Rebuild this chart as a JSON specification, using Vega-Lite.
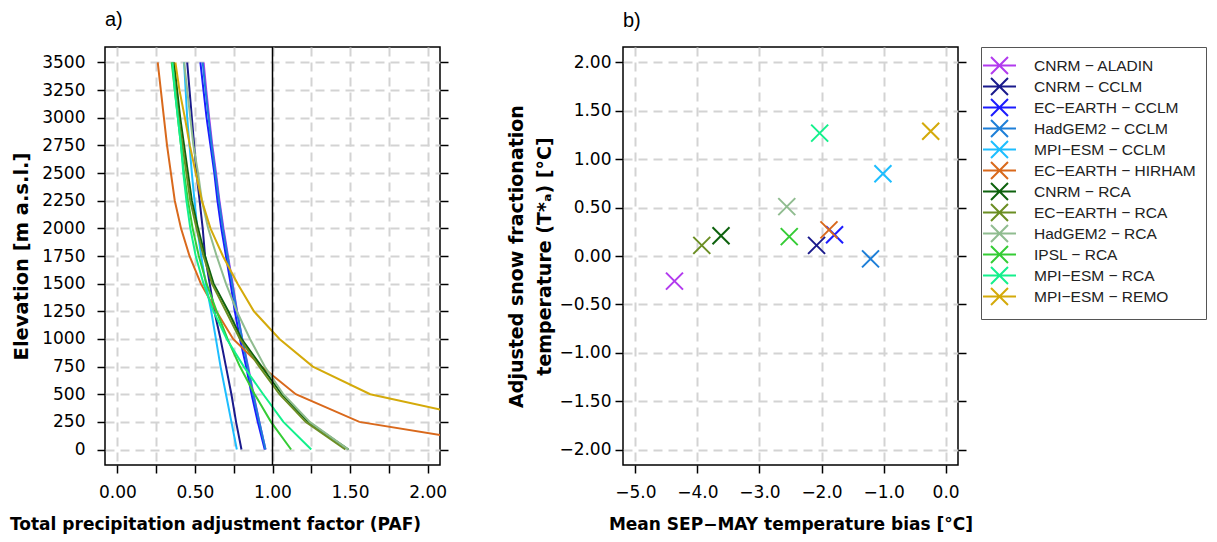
{
  "$schema": "https://vega.github.io/schema/vega-lite/v6.json",
  "background": "white",
  "padding": {"left": 8, "top": 9, "right": 5, "bottom": 5},
  "config": {
    "font": "DejaVu Sans",
    "view": {"stroke": "#000", "strokeWidth": 1.5},
    "axis": {
      "labelFont": "DejaVu Sans", "labelFontSize": 17, "labelColor": "#000",
      "titleFont": "DejaVu Sans", "titleFontSize": 17, "titleFontWeight": "bold", "titleColor": "#000",
      "tickColor": "#000", "tickWidth": 1.5, "tickSize": 8, "domain": false,
      "gridColor": "#D3D3D3", "gridWidth": 2, "gridDash": [9, 6]
    },
    "title": {"font": "Liberation Sans", "fontSize": 20, "fontWeight": "normal", "color": "#000", "anchor": "start", "frame": "group", "offset": 16}
  },
  "datasets": {
    "ref": [{"paf": 1}],
    "points": [
      {"model": "CNRM − ALADIN", "bias": -4.37, "tstar": -0.26},
      {"model": "CNRM − CCLM", "bias": -2.08, "tstar": 0.11},
      {"model": "EC−EARTH − CCLM", "bias": -1.79, "tstar": 0.22},
      {"model": "HadGEM2 − CCLM", "bias": -1.21, "tstar": -0.03},
      {"model": "MPI−ESM − CCLM", "bias": -1.01, "tstar": 0.85},
      {"model": "EC−EARTH − HIRHAM", "bias": -1.88, "tstar": 0.27},
      {"model": "CNRM − RCA", "bias": -3.62, "tstar": 0.21},
      {"model": "EC−EARTH − RCA", "bias": -3.93, "tstar": 0.11},
      {"model": "HadGEM2 − RCA", "bias": -2.56, "tstar": 0.51},
      {"model": "IPSL − RCA", "bias": -2.52, "tstar": 0.20},
      {"model": "MPI−ESM − RCA", "bias": -2.03, "tstar": 1.27},
      {"model": "MPI−ESM − REMO", "bias": -0.24, "tstar": 1.29}
    ],
    "curves": [
      {"model": "CNRM − ALADIN", "elev": 0, "paf": 0.955}, {"model": "CNRM − ALADIN", "elev": 250, "paf": 0.915}, {"model": "CNRM − ALADIN", "elev": 500, "paf": 0.878}, {"model": "CNRM − ALADIN", "elev": 750, "paf": 0.843}, {"model": "CNRM − ALADIN", "elev": 1000, "paf": 0.805}, {"model": "CNRM − ALADIN", "elev": 1250, "paf": 0.772}, {"model": "CNRM − ALADIN", "elev": 1500, "paf": 0.743}, {"model": "CNRM − ALADIN", "elev": 1750, "paf": 0.713}, {"model": "CNRM − ALADIN", "elev": 2000, "paf": 0.684}, {"model": "CNRM − ALADIN", "elev": 2250, "paf": 0.658}, {"model": "CNRM − ALADIN", "elev": 2500, "paf": 0.636}, {"model": "CNRM − ALADIN", "elev": 2750, "paf": 0.612}, {"model": "CNRM − ALADIN", "elev": 3000, "paf": 0.592}, {"model": "CNRM − ALADIN", "elev": 3250, "paf": 0.573}, {"model": "CNRM − ALADIN", "elev": 3500, "paf": 0.556},
      {"model": "CNRM − CCLM", "elev": 0, "paf": 0.80}, {"model": "CNRM − CCLM", "elev": 250, "paf": 0.765}, {"model": "CNRM − CCLM", "elev": 500, "paf": 0.735}, {"model": "CNRM − CCLM", "elev": 750, "paf": 0.70}, {"model": "CNRM − CCLM", "elev": 1000, "paf": 0.665}, {"model": "CNRM − CCLM", "elev": 1250, "paf": 0.625}, {"model": "CNRM − CCLM", "elev": 1500, "paf": 0.595}, {"model": "CNRM − CCLM", "elev": 1750, "paf": 0.565}, {"model": "CNRM − CCLM", "elev": 2000, "paf": 0.55}, {"model": "CNRM − CCLM", "elev": 2250, "paf": 0.53}, {"model": "CNRM − CCLM", "elev": 2500, "paf": 0.51}, {"model": "CNRM − CCLM", "elev": 2750, "paf": 0.495}, {"model": "CNRM − CCLM", "elev": 3000, "paf": 0.48}, {"model": "CNRM − CCLM", "elev": 3250, "paf": 0.465}, {"model": "CNRM − CCLM", "elev": 3500, "paf": 0.45},
      {"model": "EC−EARTH − CCLM", "elev": 0, "paf": 0.95}, {"model": "EC−EARTH − CCLM", "elev": 250, "paf": 0.905}, {"model": "EC−EARTH − CCLM", "elev": 500, "paf": 0.865}, {"model": "EC−EARTH − CCLM", "elev": 750, "paf": 0.83}, {"model": "EC−EARTH − CCLM", "elev": 1000, "paf": 0.79}, {"model": "EC−EARTH − CCLM", "elev": 1250, "paf": 0.757}, {"model": "EC−EARTH − CCLM", "elev": 1500, "paf": 0.73}, {"model": "EC−EARTH − CCLM", "elev": 1750, "paf": 0.70}, {"model": "EC−EARTH − CCLM", "elev": 2000, "paf": 0.67}, {"model": "EC−EARTH − CCLM", "elev": 2250, "paf": 0.645}, {"model": "EC−EARTH − CCLM", "elev": 2500, "paf": 0.625}, {"model": "EC−EARTH − CCLM", "elev": 2750, "paf": 0.60}, {"model": "EC−EARTH − CCLM", "elev": 3000, "paf": 0.575}, {"model": "EC−EARTH − CCLM", "elev": 3250, "paf": 0.555}, {"model": "EC−EARTH − CCLM", "elev": 3500, "paf": 0.535},
      {"model": "HadGEM2 − CCLM", "elev": 0, "paf": 0.955}, {"model": "HadGEM2 − CCLM", "elev": 250, "paf": 0.915}, {"model": "HadGEM2 − CCLM", "elev": 500, "paf": 0.875}, {"model": "HadGEM2 − CCLM", "elev": 750, "paf": 0.84}, {"model": "HadGEM2 − CCLM", "elev": 1000, "paf": 0.805}, {"model": "HadGEM2 − CCLM", "elev": 1250, "paf": 0.77}, {"model": "HadGEM2 − CCLM", "elev": 1500, "paf": 0.74}, {"model": "HadGEM2 − CCLM", "elev": 1750, "paf": 0.71}, {"model": "HadGEM2 − CCLM", "elev": 2000, "paf": 0.68}, {"model": "HadGEM2 − CCLM", "elev": 2250, "paf": 0.655}, {"model": "HadGEM2 − CCLM", "elev": 2500, "paf": 0.632}, {"model": "HadGEM2 − CCLM", "elev": 2750, "paf": 0.608}, {"model": "HadGEM2 − CCLM", "elev": 3000, "paf": 0.588}, {"model": "HadGEM2 − CCLM", "elev": 3250, "paf": 0.568}, {"model": "HadGEM2 − CCLM", "elev": 3500, "paf": 0.55},
      {"model": "MPI−ESM − CCLM", "elev": 0, "paf": 0.77}, {"model": "MPI−ESM − CCLM", "elev": 250, "paf": 0.735}, {"model": "MPI−ESM − CCLM", "elev": 500, "paf": 0.70}, {"model": "MPI−ESM − CCLM", "elev": 750, "paf": 0.665}, {"model": "MPI−ESM − CCLM", "elev": 1000, "paf": 0.635}, {"model": "MPI−ESM − CCLM", "elev": 1250, "paf": 0.605}, {"model": "MPI−ESM − CCLM", "elev": 1500, "paf": 0.57}, {"model": "MPI−ESM − CCLM", "elev": 1750, "paf": 0.54}, {"model": "MPI−ESM − CCLM", "elev": 2000, "paf": 0.515}, {"model": "MPI−ESM − CCLM", "elev": 2250, "paf": 0.497}, {"model": "MPI−ESM − CCLM", "elev": 2500, "paf": 0.48}, {"model": "MPI−ESM − CCLM", "elev": 2750, "paf": 0.465}, {"model": "MPI−ESM − CCLM", "elev": 3000, "paf": 0.45}, {"model": "MPI−ESM − CCLM", "elev": 3250, "paf": 0.44}, {"model": "MPI−ESM − CCLM", "elev": 3500, "paf": 0.43},
      {"model": "EC−EARTH − HIRHAM", "elev": 0, "paf": 2.65}, {"model": "EC−EARTH − HIRHAM", "elev": 250, "paf": 1.56}, {"model": "EC−EARTH − HIRHAM", "elev": 500, "paf": 1.15}, {"model": "EC−EARTH − HIRHAM", "elev": 750, "paf": 0.93}, {"model": "EC−EARTH − HIRHAM", "elev": 1000, "paf": 0.746}, {"model": "EC−EARTH − HIRHAM", "elev": 1250, "paf": 0.638}, {"model": "EC−EARTH − HIRHAM", "elev": 1500, "paf": 0.538}, {"model": "EC−EARTH − HIRHAM", "elev": 1750, "paf": 0.465}, {"model": "EC−EARTH − HIRHAM", "elev": 2000, "paf": 0.41}, {"model": "EC−EARTH − HIRHAM", "elev": 2250, "paf": 0.37}, {"model": "EC−EARTH − HIRHAM", "elev": 2500, "paf": 0.345}, {"model": "EC−EARTH − HIRHAM", "elev": 2750, "paf": 0.32}, {"model": "EC−EARTH − HIRHAM", "elev": 3000, "paf": 0.30}, {"model": "EC−EARTH − HIRHAM", "elev": 3250, "paf": 0.28}, {"model": "EC−EARTH − HIRHAM", "elev": 3500, "paf": 0.26},
      {"model": "CNRM − RCA", "elev": 0, "paf": 1.49}, {"model": "CNRM − RCA", "elev": 250, "paf": 1.23}, {"model": "CNRM − RCA", "elev": 500, "paf": 1.06}, {"model": "CNRM − RCA", "elev": 750, "paf": 0.93}, {"model": "CNRM − RCA", "elev": 1000, "paf": 0.80}, {"model": "CNRM − RCA", "elev": 1250, "paf": 0.715}, {"model": "CNRM − RCA", "elev": 1500, "paf": 0.62}, {"model": "CNRM − RCA", "elev": 1750, "paf": 0.565}, {"model": "CNRM − RCA", "elev": 2000, "paf": 0.52}, {"model": "CNRM − RCA", "elev": 2250, "paf": 0.48}, {"model": "CNRM − RCA", "elev": 2500, "paf": 0.455}, {"model": "CNRM − RCA", "elev": 2750, "paf": 0.43}, {"model": "CNRM − RCA", "elev": 3000, "paf": 0.405}, {"model": "CNRM − RCA", "elev": 3250, "paf": 0.385}, {"model": "CNRM − RCA", "elev": 3500, "paf": 0.365},
      {"model": "EC−EARTH − RCA", "elev": 0, "paf": 1.47}, {"model": "EC−EARTH − RCA", "elev": 250, "paf": 1.215}, {"model": "EC−EARTH − RCA", "elev": 500, "paf": 1.045}, {"model": "EC−EARTH − RCA", "elev": 750, "paf": 0.915}, {"model": "EC−EARTH − RCA", "elev": 1000, "paf": 0.79}, {"model": "EC−EARTH − RCA", "elev": 1250, "paf": 0.70}, {"model": "EC−EARTH − RCA", "elev": 1500, "paf": 0.61}, {"model": "EC−EARTH − RCA", "elev": 1750, "paf": 0.555}, {"model": "EC−EARTH − RCA", "elev": 2000, "paf": 0.51}, {"model": "EC−EARTH − RCA", "elev": 2250, "paf": 0.47}, {"model": "EC−EARTH − RCA", "elev": 2500, "paf": 0.445}, {"model": "EC−EARTH − RCA", "elev": 2750, "paf": 0.42}, {"model": "EC−EARTH − RCA", "elev": 3000, "paf": 0.395}, {"model": "EC−EARTH − RCA", "elev": 3250, "paf": 0.375}, {"model": "EC−EARTH − RCA", "elev": 3500, "paf": 0.355},
      {"model": "HadGEM2 − RCA", "elev": 0, "paf": 1.49}, {"model": "HadGEM2 − RCA", "elev": 250, "paf": 1.24}, {"model": "HadGEM2 − RCA", "elev": 500, "paf": 1.07}, {"model": "HadGEM2 − RCA", "elev": 750, "paf": 0.95}, {"model": "HadGEM2 − RCA", "elev": 1000, "paf": 0.855}, {"model": "HadGEM2 − RCA", "elev": 1250, "paf": 0.77}, {"model": "HadGEM2 − RCA", "elev": 1500, "paf": 0.70}, {"model": "HadGEM2 − RCA", "elev": 1750, "paf": 0.64}, {"model": "HadGEM2 − RCA", "elev": 2000, "paf": 0.585}, {"model": "HadGEM2 − RCA", "elev": 2250, "paf": 0.545}, {"model": "HadGEM2 − RCA", "elev": 2500, "paf": 0.52}, {"model": "HadGEM2 − RCA", "elev": 2750, "paf": 0.49}, {"model": "HadGEM2 − RCA", "elev": 3000, "paf": 0.47}, {"model": "HadGEM2 − RCA", "elev": 3250, "paf": 0.45}, {"model": "HadGEM2 − RCA", "elev": 3500, "paf": 0.43},
      {"model": "IPSL − RCA", "elev": 0, "paf": 1.12}, {"model": "IPSL − RCA", "elev": 250, "paf": 0.99}, {"model": "IPSL − RCA", "elev": 500, "paf": 0.885}, {"model": "IPSL − RCA", "elev": 750, "paf": 0.79}, {"model": "IPSL − RCA", "elev": 1000, "paf": 0.71}, {"model": "IPSL − RCA", "elev": 1250, "paf": 0.64}, {"model": "IPSL − RCA", "elev": 1500, "paf": 0.575}, {"model": "IPSL − RCA", "elev": 1750, "paf": 0.525}, {"model": "IPSL − RCA", "elev": 2000, "paf": 0.485}, {"model": "IPSL − RCA", "elev": 2250, "paf": 0.455}, {"model": "IPSL − RCA", "elev": 2500, "paf": 0.43}, {"model": "IPSL − RCA", "elev": 2750, "paf": 0.41}, {"model": "IPSL − RCA", "elev": 3000, "paf": 0.39}, {"model": "IPSL − RCA", "elev": 3250, "paf": 0.37}, {"model": "IPSL − RCA", "elev": 3500, "paf": 0.35},
      {"model": "MPI−ESM − RCA", "elev": 0, "paf": 1.25}, {"model": "MPI−ESM − RCA", "elev": 250, "paf": 1.07}, {"model": "MPI−ESM − RCA", "elev": 500, "paf": 0.94}, {"model": "MPI−ESM − RCA", "elev": 750, "paf": 0.815}, {"model": "MPI−ESM − RCA", "elev": 1000, "paf": 0.705}, {"model": "MPI−ESM − RCA", "elev": 1250, "paf": 0.62}, {"model": "MPI−ESM − RCA", "elev": 1500, "paf": 0.555}, {"model": "MPI−ESM − RCA", "elev": 1750, "paf": 0.505}, {"model": "MPI−ESM − RCA", "elev": 2000, "paf": 0.47}, {"model": "MPI−ESM − RCA", "elev": 2250, "paf": 0.445}, {"model": "MPI−ESM − RCA", "elev": 2500, "paf": 0.425}, {"model": "MPI−ESM − RCA", "elev": 2750, "paf": 0.41}, {"model": "MPI−ESM − RCA", "elev": 3000, "paf": 0.39}, {"model": "MPI−ESM − RCA", "elev": 3250, "paf": 0.37}, {"model": "MPI−ESM − RCA", "elev": 3500, "paf": 0.355},
      {"model": "MPI−ESM − REMO", "elev": 0, "paf": 3.5}, {"model": "MPI−ESM − REMO", "elev": 250, "paf": 2.45}, {"model": "MPI−ESM − REMO", "elev": 500, "paf": 1.63}, {"model": "MPI−ESM − REMO", "elev": 750, "paf": 1.26}, {"model": "MPI−ESM − REMO", "elev": 1000, "paf": 1.045}, {"model": "MPI−ESM − REMO", "elev": 1250, "paf": 0.88}, {"model": "MPI−ESM − REMO", "elev": 1500, "paf": 0.775}, {"model": "MPI−ESM − REMO", "elev": 1750, "paf": 0.68}, {"model": "MPI−ESM − REMO", "elev": 2000, "paf": 0.60}, {"model": "MPI−ESM − REMO", "elev": 2250, "paf": 0.545}, {"model": "MPI−ESM − REMO", "elev": 2500, "paf": 0.505}, {"model": "MPI−ESM − REMO", "elev": 2750, "paf": 0.467}, {"model": "MPI−ESM − REMO", "elev": 3000, "paf": 0.435}, {"model": "MPI−ESM − REMO", "elev": 3250, "paf": 0.40}, {"model": "MPI−ESM − REMO", "elev": 3500, "paf": 0.374}
    ]
  },
  "spacing": 57,
  "resolve": {"scale": {"color": "independent"}, "legend": {"color": "independent"}},
  "hconcat": [
    {
      "width": 335, "height": 418,
      "title": {"text": "a)"},
      "layer": [
        {
          "data": {"name": "curves"},
          "mark": {"type": "line", "strokeWidth": 2, "clip": true},
          "encoding": {
            "x": {"field": "paf", "type": "quantitative",
              "scale": {"domain": [-0.08, 2.08], "nice": false, "zero": false},
              "axis": {"values": [0, 0.25, 0.5, 0.75, 1, 1.25, 1.5, 1.75, 2], "labelExpr": "abs(datum.value * 2 - round(datum.value * 2)) < 0.000001 ? format(datum.value, '.2f') : ''", "title": "Total precipitation adjustment factor (PAF)", "titleX": 110, "titleAlign": "center", "labelPadding": 11, "titlePadding": 16, "grid": true}},
            "y": {"field": "elev", "type": "quantitative",
              "scale": {"domain": [-140, 3640], "nice": false, "zero": false},
              "axis": {"values": [0, 250, 500, 750, 1000, 1250, 1500, 1750, 2000, 2250, 2500, 2750, 3000, 3250, 3500], "format": "d", "title": "Elevation [m a.s.l.]", "titleFontSize": 19.5, "labelPadding": 12, "titlePadding": 10, "grid": true}},
            "color": {"field": "model", "type": "nominal",
              "scale": {"domain": ["CNRM − ALADIN", "CNRM − CCLM", "EC−EARTH − CCLM", "HadGEM2 − CCLM", "MPI−ESM − CCLM", "EC−EARTH − HIRHAM", "CNRM − RCA", "EC−EARTH − RCA", "HadGEM2 − RCA", "IPSL − RCA", "MPI−ESM − RCA", "MPI−ESM − REMO"],
                "range": ["#B23AEE", "#1A1A8C", "#1C1CFF", "#1E7FD8", "#1EBEFF", "#D9691C", "#0E620E", "#6B8E23", "#90BC90", "#35CC35", "#14F08C", "#D4AA0A"]},
              "legend": null},
            "order": {"field": "elev", "type": "quantitative"}
          }
        },
        {
          "data": {"name": "ref"},
          "mark": {"type": "rule", "color": "#000", "strokeWidth": 1.5},
          "encoding": {
            "x": {"field": "paf", "type": "quantitative"},
            "y": {"datum": -140, "type": "quantitative",
              "axis": {"orient": "right", "values": [0, 250, 500, 750, 1000, 1250, 1500, 1750, 2000, 2250, 2500, 2750, 3000, 3250, 3500], "labels": false, "grid": false, "title": null}},
            "y2": {"datum": 3640}
          }
        }
      ],
      "resolve": {"axis": {"y": "independent"}}
    },
    {
      "width": 335, "height": 418,
      "title": {"text": "b)"},
      "layer": [
        {
          "data": {"name": "points"},
          "mark": {"type": "point", "shape": "M-1,-1L1,1M-1,1L1,-1", "filled": false, "size": 289, "strokeWidth": 2, "opacity": 1},
          "encoding": {
            "x": {"field": "bias", "type": "quantitative",
              "scale": {"domain": [-5.2, 0.2], "nice": false, "zero": false},
              "axis": {"values": [-5, -4.5, -4, -3.5, -3, -2.5, -2, -1.5, -1, -0.5, 0], "labelExpr": "abs(datum.value - round(datum.value)) < 0.000001 ? replace(format(datum.value, '.1f'), '-', '−') : ''", "title": "Mean SEP−MAY temperature bias [°C]", "labelPadding": 11, "titlePadding": 16, "grid": true}},
            "y": {"field": "tstar", "type": "quantitative",
              "scale": {"domain": [-2.16, 2.16], "nice": false, "zero": false},
              "axis": {"values": [-2, -1.5, -1, -0.5, 0, 0.5, 1, 1.5, 2], "labelExpr": "replace(format(datum.value, '.2f'), '-', '−')", "title": ["Adjusted snow fractionation", "temperature (T*ₐ) [°C]"], "titleFontSize": 19, "titleLineHeight": 28, "labelPadding": 4, "titlePadding": 4, "grid": true}},
            "color": {"field": "model", "type": "nominal",
              "scale": {"domain": ["CNRM − ALADIN", "CNRM − CCLM", "EC−EARTH − CCLM", "HadGEM2 − CCLM", "MPI−ESM − CCLM", "EC−EARTH − HIRHAM", "CNRM − RCA", "EC−EARTH − RCA", "HadGEM2 − RCA", "IPSL − RCA", "MPI−ESM − RCA", "MPI−ESM − REMO"],
                "range": ["#B23AEE", "#1A1A8C", "#1C1CFF", "#1E7FD8", "#1EBEFF", "#D9691C", "#0E620E", "#6B8E23", "#90BC90", "#35CC35", "#14F08C", "#D4AA0A"]},
              "legend": {"title": null, "orient": "right", "offset": 14,
                "symbolType": "M-2.33,0L2.33,0M-1.2,-1.2L1.2,1.2M-1.2,1.2L1.2,-1.2", "symbolSize": 200, "symbolStrokeWidth": 2,
                "labelFont": "Liberation Sans", "labelFontSize": 15.5, "labelColor": "#222", "labelLimit": 300,
                "labelOffset": 26, "padding": 10, "rowPadding": -5.3, "strokeColor": "#555", "fillColor": "white"}}
          }
        },
        {
          "data": {"name": "points"},
          "mark": {"type": "point", "opacity": 0},
          "encoding": {
            "x": {"field": "bias", "type": "quantitative"},
            "y": {"field": "tstar", "type": "quantitative",
              "axis": {"orient": "right", "values": [-2, -1.5, -1, -0.5, 0, 0.5, 1, 1.5, 2], "labels": false, "grid": false, "title": null}}
          }
        }
      ],
      "resolve": {"axis": {"y": "independent"}}
    }
  ]
}
